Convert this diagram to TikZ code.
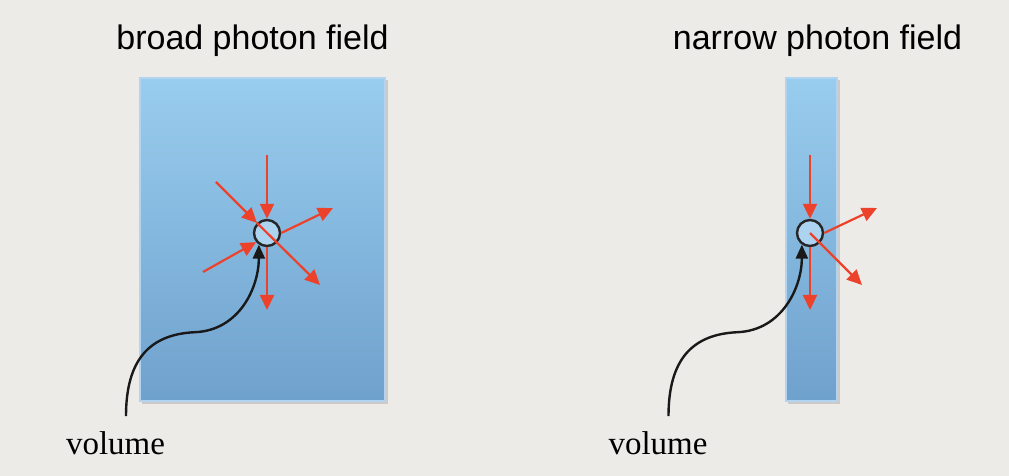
\documentclass[tikz,border=0pt]{standalone}
\usepackage{fontspec}
\setmainfont{Liberation Serif}
\newfontfamily\headfont{Liberation Sans}
\usetikzlibrary{arrows.meta, calc}
\definecolor{paper}{RGB}{237,235,232}
\definecolor{ray}{RGB}{236,66,44}
\definecolor{fieldtop}{RGB}{153,205,238}
\definecolor{fieldbot}{RGB}{111,161,205}
\definecolor{fieldrim}{RGB}{178,212,240}
\definecolor{volfill}{RGB}{172,212,240}
\tikzset{
  field/.style  ={top color=fieldtop, bottom color=fieldbot, draw=fieldrim, line width=0.6pt},
  fshadow/.style={fill=black!40, opacity=0.4},
  vol/.style    ={circle, draw=black!85, line width=1.2pt, fill=volfill,
                  minimum size=13pt, inner sep=0pt},
  photon/.style ={-{Triangle[length=7.5pt,width=7pt]}, draw=ray, line width=1.1pt},
  pointer/.style={-{Triangle[length=7pt,width=6pt]}, draw=black!90, line width=1.2pt},
  heading/.style={font=\headfont\fontsize{17}{20}\selectfont, anchor=base, inner sep=0pt},
  vlabel/.style ={font=\fontsize{16.5}{20}\selectfont, anchor=base, inner sep=0pt},
}
\begin{document}
\begin{tikzpicture}[x=0.5pt, y=-0.5pt]
\fill[paper] (0,0) rectangle (1009,476);
\useasboundingbox (0,0) rectangle (1009,476);
% the two fields
\fill[fshadow] (142,80) rectangle (388,404);
\path[field] (140,78) rectangle (385,401);
\fill[fshadow] (788,80) rectangle (840,404);
\path[field] (786,78) rectangle (837,401);
\node[heading] (tbroad) at (252.5,50) {broad photon field};
\node[heading] (tnarrow) at (817.5,50) {narrow photon field};
% volumes
\node[vol] (volb) at (267,233) {};
\node[vol] (voln) at (810,233) {};
\node[vlabel] (vlabb) at (115.5,455) {volume};
\node[vlabel] (vlabn) at (658,455) {volume};
% ray ends
\coordinate (bn) at (267,155);
\coordinate (bs) at (267,310);
\coordinate (bnw) at (216,182);
\coordinate (bse) at (320,285);
\coordinate (bne) at (333,208);
\coordinate (bsw) at (203,272);
\coordinate (nn) at (810,155);
\coordinate (ns) at (810,310);
\coordinate (nne) at (877,208);
\coordinate (nse) at (862,285);
% broad field rays
\draw[photon] (bn) -- (volb.north);
\draw[photon] (volb.south) -- (bs);
\draw[photon] (bnw) -- (volb.135);
\draw[photon] (volb.135) -- (bse);
\draw[photon] (volb.east) -- (bne);
\draw[photon] (bsw) -- (volb.220);
% narrow field rays
\draw[photon] (nn) -- (voln.north);
\draw[photon] (voln.south) -- (ns);
\draw[photon] (voln.east) -- (nne);
\draw[photon] (voln.center) -- (nse);
% pointers to the volumes
\coordinate (tailb) at ($(vlabb.north)+(10.5,-15.5)$);
\coordinate (tailn) at ($(vlabn.north)+(10.5,-15.5)$);
\draw[pointer] (tailb) .. controls +(0,-57) and +(-45,2) .. ++(69,-84)
  .. controls +(45,-2) and +(0,42) .. (volb.235);
\draw[pointer] (tailn) .. controls +(0,-57) and +(-45,2) .. ++(69,-84)
  .. controls +(45,-2) and +(0,42) .. (voln.235);
\end{tikzpicture}
\end{document}
